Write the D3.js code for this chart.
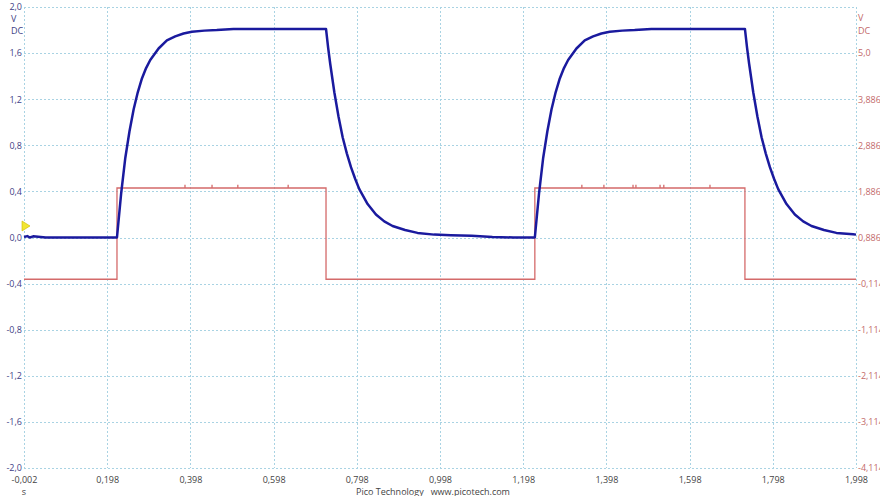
<!DOCTYPE html>
<html><head><meta charset="utf-8">
<script src="https://cdn.jsdelivr.net/npm/d3@7"></script>
<style>
html,body{margin:0;padding:0;background:#fff;}
svg{display:block;font-family:"Open Sans","Noto Sans",sans-serif;}
</style></head>
<body><svg id="c" width="880" height="496"></svg>
<script>
// ---- data ----
const xTicks = [-0.002,0.198,0.398,0.598,0.798,0.998,1.198,1.398,1.598,1.798,1.998];
const xTickLabels = ["-0,002","0,198","0,398","0,598","0,798","0,998","1,198","1,398","1,598","1,798","1,998"];
const leftTicks = [2.0,1.6,1.2,0.8,0.4,0.0,-0.4,-0.8,-1.2,-1.6,-2.0];
const leftTickLabels = ["2,0","1,6","1,2","0,8","0,4","0,0","-0,4","-0,8","-1,2","-1,6","-2,0"];
const rightTicks = [1.6,1.2,0.8,0.4,0.0,-0.4,-0.8,-1.2,-1.6,-2.0];
const rightTickLabels = ["5,0","3,886","2,886","1,886","0,886","-0,114","-1,114","-2,114","-3,114","-4,114"];

// Channel A (blue, left axis, V)
const blueTime = [-0.002,0.006,0.012,0.02,0.05,0.1,0.2215,
  0.2315,0.2415,0.2515,0.2615,0.2715,0.2815,0.2915,0.3015,0.3215,0.3415,0.3615,0.3815,0.4015,0.4315,0.4615,0.5015,0.724,
  0.729,0.734,0.744,0.754,0.764,0.774,0.784,0.794,0.804,0.824,0.844,0.864,0.884,0.914,0.944,0.984,1.024,1.074,1.124,1.174,1.226,
  1.236,1.246,1.256,1.266,1.276,1.286,1.296,1.306,1.326,1.346,1.366,1.386,1.406,1.436,1.466,1.506,1.731,
  1.736,1.741,1.751,1.761,1.771,1.781,1.791,1.801,1.811,1.831,1.851,1.871,1.891,1.921,1.951,1.991,1.998];
const blueVolt = [0.005,0.012,0.0,0.01,0.0,0.0,0.0,
  0.38,0.69,0.92,1.11,1.26,1.38,1.47,1.54,1.64,1.71,1.745,1.77,1.785,1.795,1.80,1.81,1.81,
  1.65,1.51,1.26,1.05,0.87,0.73,0.61,0.51,0.42,0.29,0.20,0.14,0.10,0.065,0.04,0.025,0.02,0.015,0.005,0.0,0.0,
  0.38,0.69,0.92,1.11,1.26,1.38,1.47,1.54,1.64,1.71,1.745,1.77,1.785,1.795,1.80,1.81,1.81,
  1.65,1.51,1.26,1.05,0.87,0.73,0.61,0.51,0.42,0.29,0.20,0.14,0.10,0.065,0.04,0.028,0.025];

// Channel B (red, right axis, V)
const redTime = [-0.002,0.2215,0.2215,0.724,0.724,1.226,1.226,1.731,1.731,1.998];
const redVolt = [-0.02,-0.02,1.96,1.96,-0.02,-0.02,1.96,1.96,-0.02,-0.02];
const redGlitchTime = [0.385,0.450,0.512,0.633,1.339,1.392,1.462,1.469,1.527,1.536,1.647];
const redGlitchVolt = [2.03,2.03,2.03,2.03,2.03,2.03,2.03,2.03,2.03,2.03,2.03];
const triggerLevel = 0.1;

// ---- chart ----
const svg = d3.select("#c");
const L = 24, R = 856, T = 7, B = 468;
const x = d3.scaleLinear().domain([-0.002,1.998]).range([L,R]);
const yL = d3.scaleLinear().domain([-2,2]).range([B,T]);
const yR = d3.scaleLinear().domain([-4.114,5.886]).range([B,T]);

const gridColor = "#a9d3e3";
const grid = svg.append("g");
grid.selectAll("line.v").data(xTicks).join("line")
  .attr("x1",d=>Math.round(x(d))+0.5).attr("x2",d=>Math.round(x(d))+0.5)
  .attr("y1",T).attr("y2",B)
  .attr("stroke",gridColor).attr("stroke-width",1).attr("stroke-dasharray","2,2");
grid.selectAll("line.h").data(leftTicks).join("line")
  .attr("x1",L).attr("x2",R)
  .attr("y1",d=>Math.round(yL(d))+0.5).attr("y2",d=>Math.round(yL(d))+0.5)
  .attr("stroke",gridColor).attr("stroke-width",1).attr("stroke-dasharray","2,2");

// left axis
const leftAxis = d3.axisLeft(yL).tickValues(leftTicks).tickSize(0).tickPadding(2)
  .tickFormat((d,i)=>leftTickLabels[i]);
const gl = svg.append("g").attr("transform",`translate(${L},0)`).call(leftAxis);
gl.select(".domain").remove();
gl.selectAll("text").attr("fill","#3f3f86").style("font-size","9px").attr("font-family","Open Sans, Noto Sans, sans-serif");

// right axis
const rightAxis = d3.axisRight(yL).tickValues(rightTicks).tickSize(0).tickPadding(2)
  .tickFormat((d,i)=>rightTickLabels[i]);
const gr = svg.append("g").attr("transform",`translate(${R},0)`).call(rightAxis);
gr.select(".domain").remove();
gr.selectAll("text").attr("fill","#c36a6a").style("font-size","9px").attr("font-family","Open Sans, Noto Sans, sans-serif");

// bottom axis
const bottomAxis = d3.axisBottom(x).tickValues(xTicks).tickSize(0).tickPadding(9)
  .tickFormat((d,i)=>xTickLabels[i]);
const gb = svg.append("g").attr("transform",`translate(0,${B})`).call(bottomAxis);
gb.select(".domain").remove();
gb.selectAll("text").attr("fill","#444").style("font-size","9px").attr("font-family","Open Sans, Noto Sans, sans-serif");

// unit labels
svg.append("text").attr("x",11).attr("y",22).text("V").attr("fill","#3f3f86").style("font-size","9px");
svg.append("text").attr("x",11).attr("y",34).text("DC").attr("fill","#3f3f86").style("font-size","9px");
svg.append("text").attr("x",858).attr("y",21).text("V").attr("fill","#c36a6a").style("font-size","9px");
svg.append("text").attr("x",858).attr("y",34).text("DC").attr("fill","#c36a6a").style("font-size","9px");
svg.append("text").attr("x",24).attr("y",495).attr("text-anchor","middle").text("s").attr("fill","#444").style("font-size","9px");
svg.append("text").attr("x",433).attr("y",495).attr("text-anchor","middle").text("Pico Technology   www.picotech.com")
  .attr("fill","#444").style("font-size","9px").attr("xml:space","preserve").style("white-space","pre");

// red trace
const redLine = d3.line().x(d=>x(d[0])).y(d=>yR(d[1]));
svg.append("path").datum(redTime.map((t,i)=>[t,redVolt[i]]))
  .attr("d",redLine).attr("fill","none").attr("stroke","#d46a6a").attr("stroke-width",1.3);
svg.selectAll("line.glitch").data(redGlitchTime.map((t,i)=>[t,redGlitchVolt[i]])).join("line")
  .attr("x1",d=>x(d[0])).attr("x2",d=>x(d[0]))
  .attr("y1",yR(1.96)).attr("y2",d=>yR(d[1]))
  .attr("stroke","#d46a6a").attr("stroke-width",1.3);

// blue trace
const blueLine = d3.line().x(d=>x(d[0])).y(d=>yL(d[1]));
svg.append("path").datum(blueTime.map((t,i)=>[t,blueVolt[i]]))
  .attr("d",blueLine).attr("fill","none").attr("stroke","#1a1a9e").attr("stroke-width",2.5)
  .attr("stroke-linejoin","round");

// trigger marker
const ty = yL(triggerLevel);
svg.append("path").attr("d",`M22,${ty-5}L30,${ty}L22,${ty+5}Z`)
  .attr("fill","#f2e632").attr("stroke","#c9b800").attr("stroke-width",0.6);
</script></body></html>
